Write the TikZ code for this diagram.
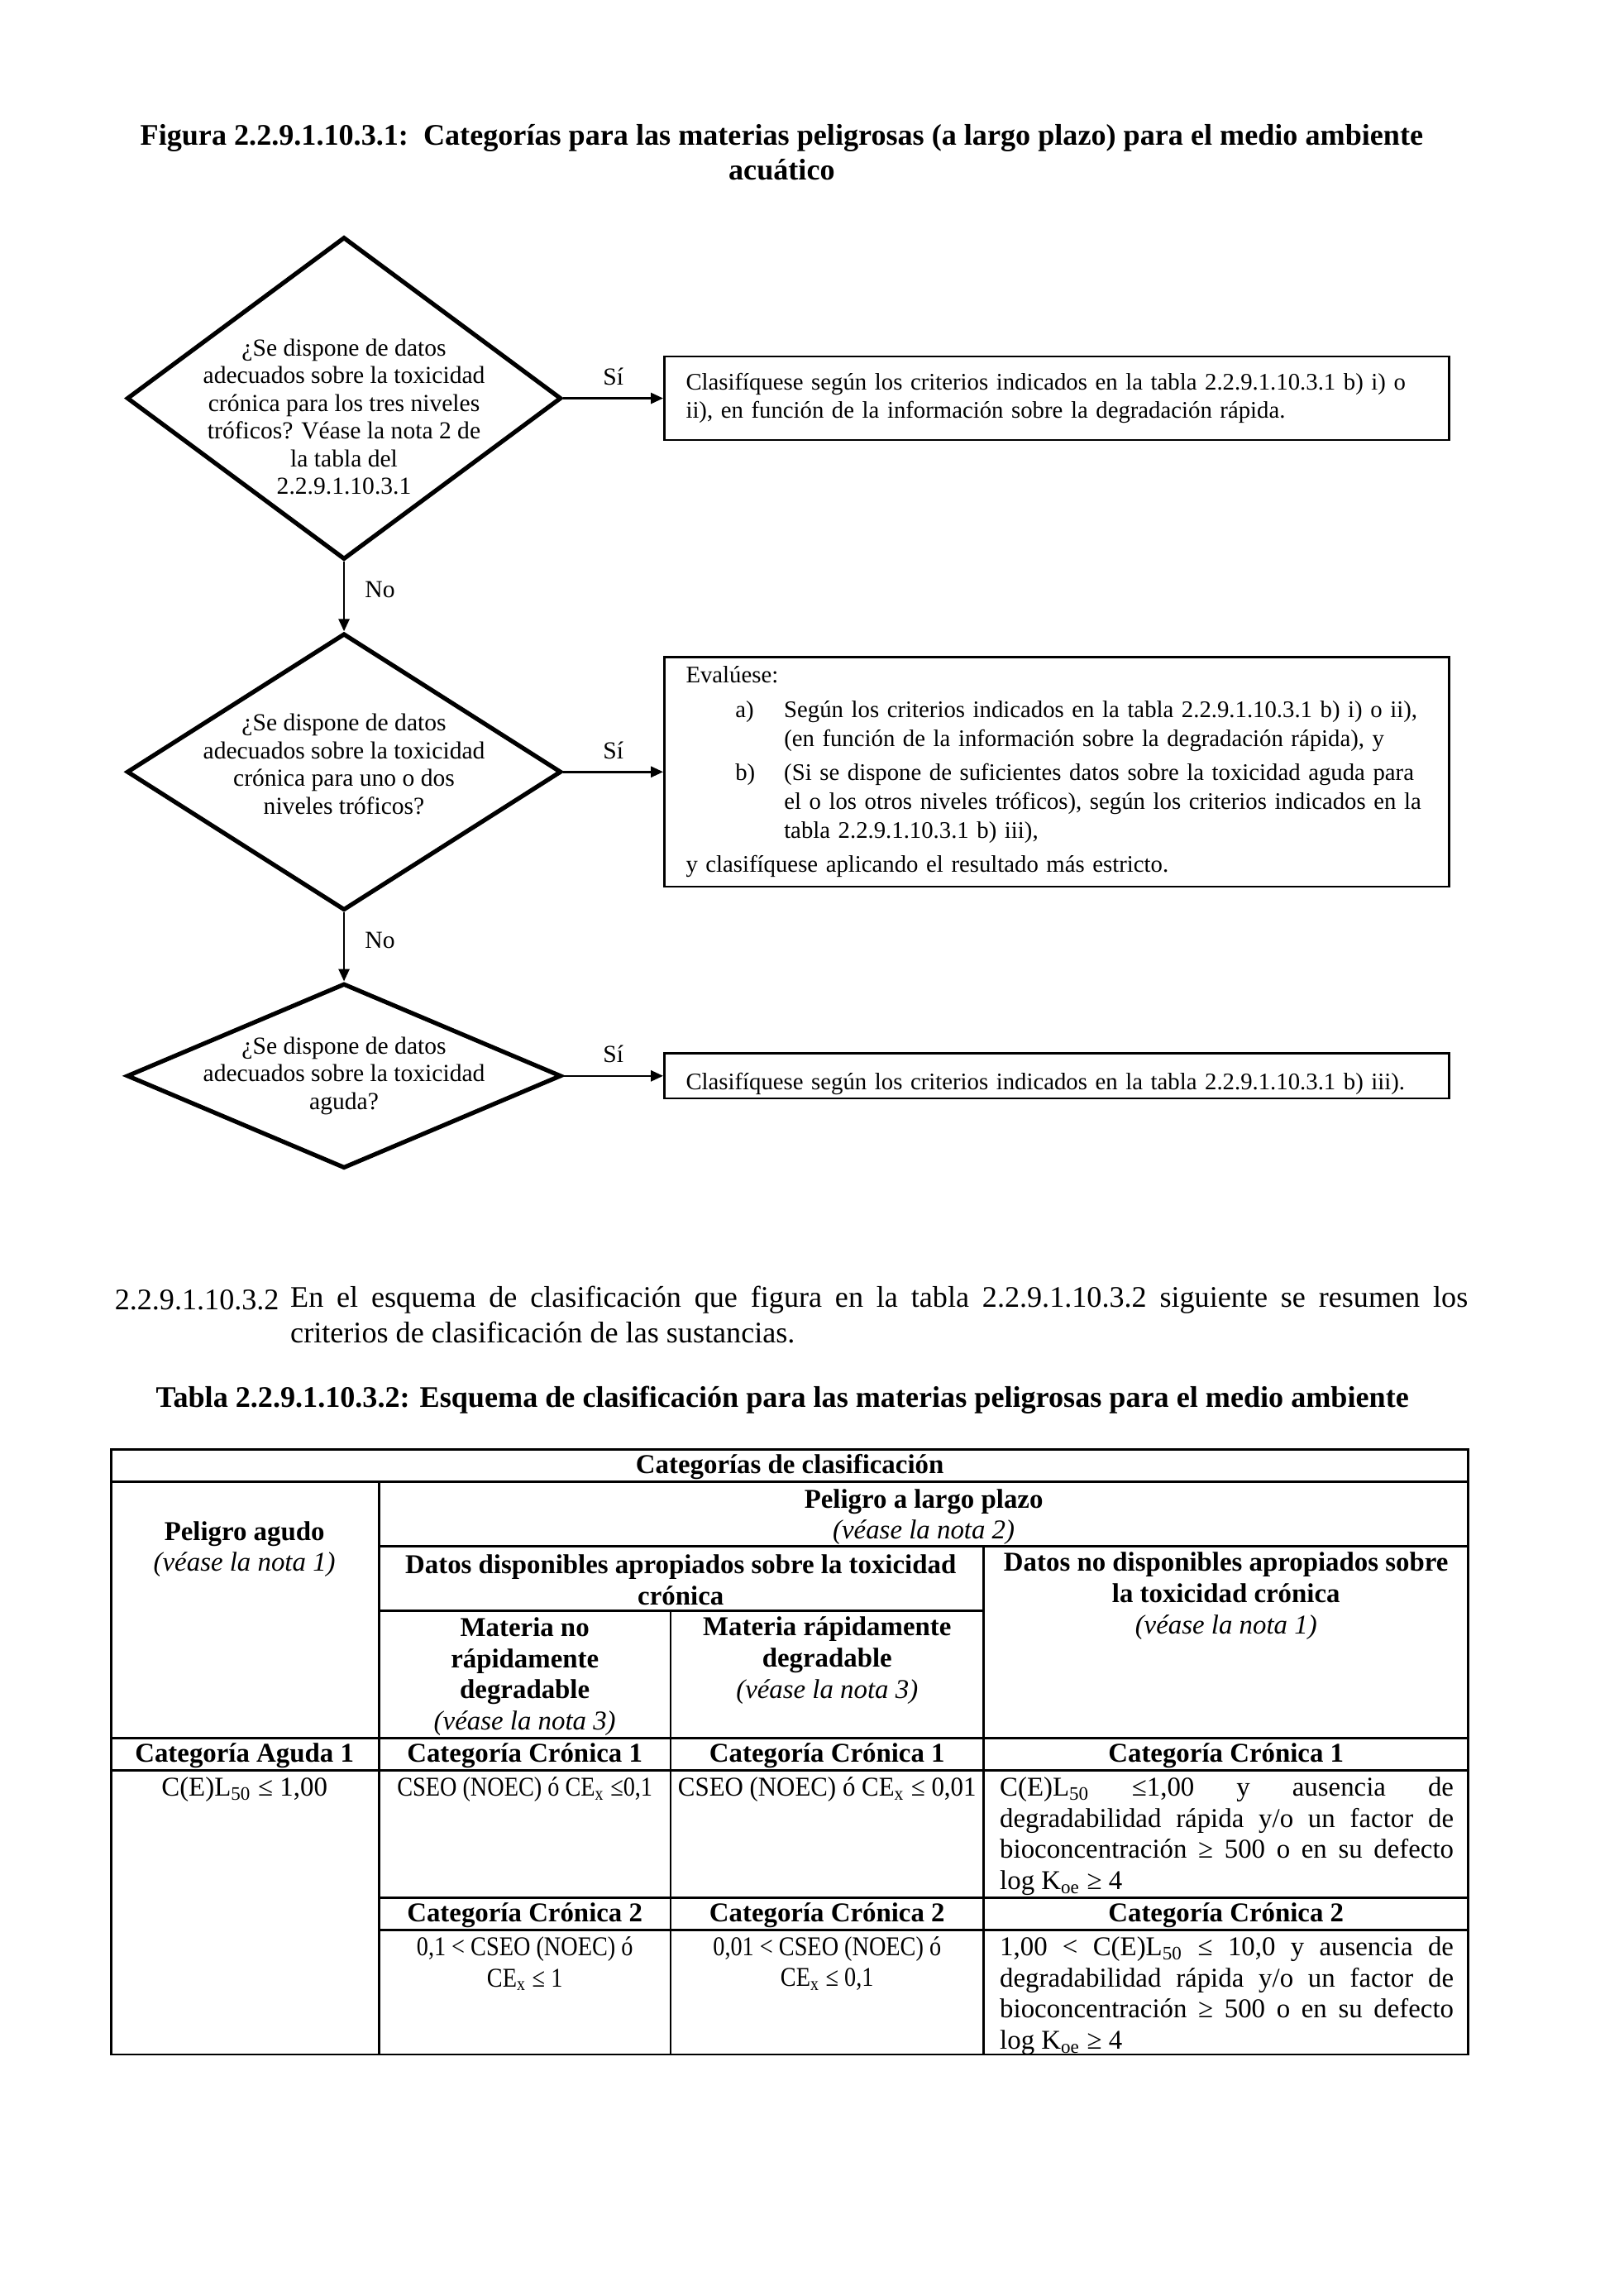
\documentclass[tikz,border=0pt]{standalone}
\usepackage{fontspec}
\setmainfont{Liberation Serif}
\newfontfamily\tight{Liberation Serif}[FakeStretch=0.86]
\newfontfamily\semitight{Liberation Serif}[FakeStretch=0.94]
\usepackage{xcolor}
\usepackage{tikz}
\usetikzlibrary{positioning,shapes.geometric,arrows.meta}
\definecolor{Black}{HTML}{000000}
\definecolor{White}{HTML}{FFFFFF}

\begin{document}
\begin{tikzpicture}[x=0.18936mm, y=-0.18936mm, node distance=0.5cm, >={Triangle[length=1.6mm, width=1.4mm]}]
  \tikzstyle{decision} = [diamond, draw=Black, line width=1.6pt, minimum width=56.2mm, inner sep=0pt]
  \tikzstyle{question} = [align=center, font=\fontsize{9}{10.2}\selectfont, inner sep=0pt]
  \tikzstyle{outcome} = [rectangle, draw=Black, line width=0.8pt, text width=95.9mm, inner xsep=2.8mm, align=left, font=\fontsize{8.75}{10.6}\selectfont]
  \tikzstyle{flow} = [->, line width=0.8pt, draw=Black]
  \tikzstyle{answer} = [font=\fontsize{9}{10.2}\selectfont]
  \tikzstyle{heading} = [align=center, font=\fontsize{11}{12.9}\selectfont\bfseries, inner sep=0pt]
  \tikzstyle{body} = [font=\fontsize{11}{12.9}\selectfont, inner sep=0pt]
  \tikzstyle{rule} = [line width=0.8pt, draw=Black]
  \tikzstyle{cell} = [align=center, font=\fontsize{10}{11.5}\selectfont, inner sep=0pt]
  \tikzstyle{tightcell} = [cell, font=\fontsize{10}{11.5}\tight]
  \tikzstyle{semicell} = [cell, font=\fontsize{10}{11.5}\semitight]
  \tikzstyle{justcell} = [cell, text width=58.7mm, align=justify]

  \path [fill=White] (0,0) rectangle (1109,1568);
  \useasboundingbox (0,0) rectangle (1109,1568);

  \node [heading] (figtitle) at (534,104) {Figura 2.2.9.1.10.3.1:\ \ Categorías para las materias peligrosas (a largo plazo) para el medio ambiente\\acuático};

  \node [decision, minimum height=41.7mm] (q1) at (235,272) {};
  \node [decision, minimum height=35.8mm, below=9.0mm of q1] (q2) {};
  \node [decision, minimum height=23.9mm, below=8.9mm of q2] (q3) {};

  \node [question] (q1text) at ([yshift=-2.4mm]q1.center) {¿Se dispone de datos\\adecuados sobre la toxicidad\\crónica para los tres niveles\\tróficos? Véase la nota 2 de\\la tabla del\\2.2.9.1.10.3.1};
  \node [question] (q2text) at ([yshift=1mm]q2.center) {¿Se dispone de datos\\adecuados sobre la toxicidad\\crónica para uno o dos\\niveles tróficos?};
  \node [question] (q3text) at (q3.center) {¿Se dispone de datos\\adecuados sobre la toxicidad\\aguda?};

  \node [outcome, minimum height=10.8mm, right=12.9mm of q1] (r1) {Clasifíquese según los criterios indicados en la tabla 2.2.9.1.10.3.1 b) i) o\\ii), en función de la información sobre la degradación rápida.};
  \node [outcome, minimum height=29.7mm, right=12.9mm of q2] (r2) {Evalúese:\\[2pt]
    \hspace*{6.4mm}\makebox[6.3mm][l]{a)}Según los criterios indicados en la tabla 2.2.9.1.10.3.1 b) i) o ii),\\
    \hspace*{12.7mm}(en función de la información sobre la degradación rápida), y\\[2pt]
    \hspace*{6.4mm}\makebox[6.3mm][l]{b)}(Si se dispone de suficientes datos sobre la toxicidad aguda para\\
    \hspace*{12.7mm}el o los otros niveles tróficos), según los criterios indicados en la\\
    \hspace*{12.7mm}tabla 2.2.9.1.10.3.1 b) iii),\\[2pt]
    y clasifíquese aplicando el resultado más estricto.};
  \node [outcome, inner ysep=0pt, text height=4.7mm, text depth=1.1mm, right=12.9mm of q3] (r3) {Clasifíquese según los criterios indicados en la tabla 2.2.9.1.10.3.1 b) iii).};

  \draw [flow] (q1.east) -- (r1.west) node [answer, midway, above=1pt] {Sí};
  \draw [flow] (q2.east) -- (r2.west) node [answer, midway, above=1pt] {Sí};
  \draw [flow] (q3.east) -- (r3.west) node [answer, midway, above=1pt] {Sí};
  \draw [flow] (q1.south) -- (q2.north) node [answer, pos=0.4, right=4pt] {No};
  \draw [flow] (q2.south) -- (q3.north) node [answer, pos=0.4, right=4pt] {No};

  \node [body, anchor=west] (secnum) at (78,888) {2.2.9.1.10.3.2};
  \node [body, text width=152.3mm, align=justify, anchor=base west] (secpar) at (198,893) {En el esquema de clasificación que figura en la tabla 2.2.9.1.10.3.2 siguiente se resumen los\linebreak criterios de clasificación de las sustancias.};

  \node [heading] (tabtitle) at (534.5,956) {Tabla 2.2.9.1.10.3.2: Esquema de clasificación para las materias peligrosas para el medio ambiente};

  \draw [rule] (76,990) rectangle (1003,1403);
  \foreach \y in {1012,1187,1209}
    \draw [rule] (76,\y) -- (1003,\y);
  \foreach \y in {1056,1296,1318}
    \draw [rule] (259,\y) -- (1003,\y);
  \draw [rule] (259,1100) -- (672,1100);
  \draw [rule] (259,1012) -- (259,1403);
  \draw [rule] (672,1056) -- (672,1403);
  \draw [rule] (458,1100) -- (458,1403);

  \node [cell] (cats) at (539.5,1002) {\textbf{Categorías de clasificación}};
  \node [cell] (acute) at (167,1058) {\textbf{Peligro agudo}\\\textit{(véase la nota 1)}};
  \node [cell] (longterm) at (631,1036) {\textbf{Peligro a largo plazo}\\\textit{(véase la nota 2)}};
  \node [cell] (avail) at (465,1079) {\textbf{Datos disponibles apropiados sobre la toxicidad}\\\textbf{crónica}};
  \node [cell] (noavail) at (837.5,1090) {\textbf{Datos no disponibles apropiados sobre}\\\textbf{la toxicidad crónica}\\\textit{(véase la nota 1)}};
  \node [cell] (nondeg) at (358.5,1145) {\textbf{Materia no}\\\textbf{rápidamente}\\\textbf{degradable}\\\textit{(véase la nota 3)}};
  \node [cell] (rapdeg) at (565,1134) {\textbf{Materia rápidamente}\\\textbf{degradable}\\\textit{(véase la nota 3)}};

  \node [cell] (acute1) at (167,1199) {\textbf{Categoría Aguda 1}};
  \node [cell] (nondeg1) at (358.5,1199) {\textbf{Categoría Crónica 1}};
  \node [cell] (rapdeg1) at (565,1199) {\textbf{Categoría Crónica 1}};
  \node [cell] (noavail1) at (837.5,1199) {\textbf{Categoría Crónica 1}};

  \node [cell] (acuteval) at (167,1222) {C(E)L\textsubscript{50} ≤ 1,00};
  \node [tightcell] (nondegval1) at (358.5,1222) {CSEO (NOEC) ó CE\textsubscript{x} ≤0,1};
  \node [semicell] (rapdegval1) at (565,1222) {CSEO (NOEC) ó CE\textsubscript{x} ≤ 0,01};
  \node [justcell] (noavailval1) at (838,1254) {C(E)L\textsubscript{50} ≤1,00 y ausencia de\linebreak degradabilidad rápida y/o un factor de\linebreak bioconcentración ≥ 500 o en su defecto\linebreak log K\textsubscript{oe} ≥ 4};

  \node [cell] (nondeg2) at (358.5,1308) {\textbf{Categoría Crónica 2}};
  \node [cell] (rapdeg2) at (565,1308) {\textbf{Categoría Crónica 2}};
  \node [cell] (noavail2) at (837.5,1308) {\textbf{Categoría Crónica 2}};

  \node [tightcell] (nondegval2) at (358.5,1341) {0,1 < CSEO (NOEC) ó\\CE\textsubscript{x} ≤ 1};
  \node [tightcell] (rapdegval2) at (565,1341) {0,01 < CSEO (NOEC) ó\\CE\textsubscript{x} ≤ 0,1};
  \node [justcell] (noavailval2) at (838,1363) {1,00 < C(E)L\textsubscript{50} ≤ 10,0 y ausencia de\linebreak degradabilidad rápida y/o un factor de\linebreak bioconcentración ≥ 500 o en su defecto\linebreak log K\textsubscript{oe} ≥ 4};
\end{tikzpicture}
\end{document}
